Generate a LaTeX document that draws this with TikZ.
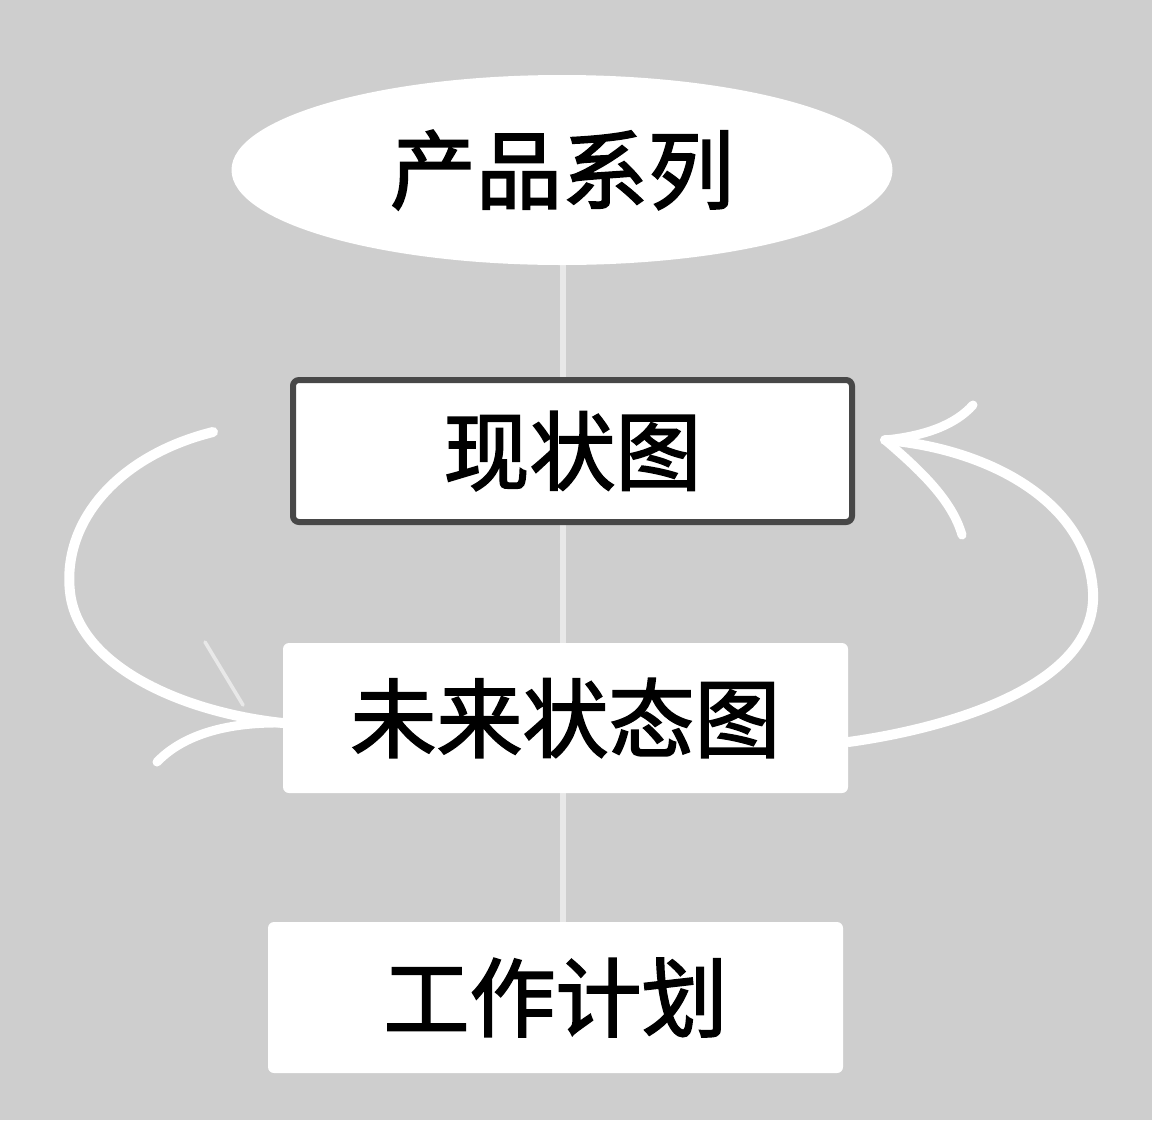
\documentclass[tikz,border=0pt]{standalone}
\usepackage{fontspec}
\newfontfamily\cjk[FakeBold=2]{Noto Sans CJK SC}
\usetikzlibrary{shapes.geometric}
\pgfdeclarelayer{bg}
\pgfsetlayers{bg,main}
\definecolor{bgray}{HTML}{CECECE}
\definecolor{lgray}{HTML}{E8E8E8}
\definecolor{dgray}{HTML}{484848}
\tikzset{
  lbl/.style={font=\cjk\fontsize{43}{50}\selectfont, text=black, inner sep=0pt},
  whitebox/.style={lbl, rectangle, fill=white, rounded corners=3pt},
  curbox/.style={whitebox, draw=dgray, line width=3pt},
  stroke/.style={draw=white, line width=5pt, line cap=round, line join=round},
  barb/.style={draw=white, line width=4.5pt, line cap=round},
  faintbarb/.style={draw=lgray, line width=1.8pt, line cap=round},
  spine/.style={draw=lgray, line width=3pt}
}
\begin{document}
\begin{tikzpicture}[x=0.5pt,y=-0.5pt]
\begin{pgfonlayer}{bg}
\fill[bgray] (0,0) rectangle (1152,1120);
\end{pgfonlayer}
\useasboundingbox (0,0) rectangle (1152,1120);

\node[lbl, ellipse, fill=white, minimum width=330.5pt, minimum height=95pt] (family) at (562,170) {产品系列};
\node[curbox, minimum width=279.5pt, minimum height=71pt] (current) at (572.5,451) {现状图};
\node[whitebox, minimum width=282.5pt, minimum height=75pt] (future) at (565.5,718) {未来状态图};
\node[whitebox, minimum width=287.5pt, minimum height=75.5pt] (plan) at (555.5,997.5) {工作计划};

\begin{pgfonlayer}{bg}
\draw[spine] (family.south -| 563,0) -- (plan.north -| 563,0);
\end{pgfonlayer}

% left loop: from current state back down into future state
\coordinate (lstart) at (213,432);
\coordinate (ltip) at (future.west |- 0,723);
\draw[stroke] (lstart) .. controls (120,455) and (62,520) .. (70,592)
  .. controls (78,665) and (180,712) .. (ltip);
\draw[barb] (ltip) .. controls (220,722) and (180,738) .. (157,762);
\draw[faintbarb] (205,642) -- (243,705);

% right loop: from future state up to current state
\coordinate (rstart) at (future.east |- 0,742);
\coordinate (rtip) at (885,440);
\draw[stroke] (rstart) .. controls (950,728) and (1098,685) .. (1093,592)
  .. controls (1088,500) and (985,448) .. (rtip);
\draw[barb] (rtip) .. controls (925,436) and (955,425) .. (973,405);
\draw[barb] (rtip) .. controls (920,470) and (952,500) .. (962,535);
\end{tikzpicture}
\end{document}
